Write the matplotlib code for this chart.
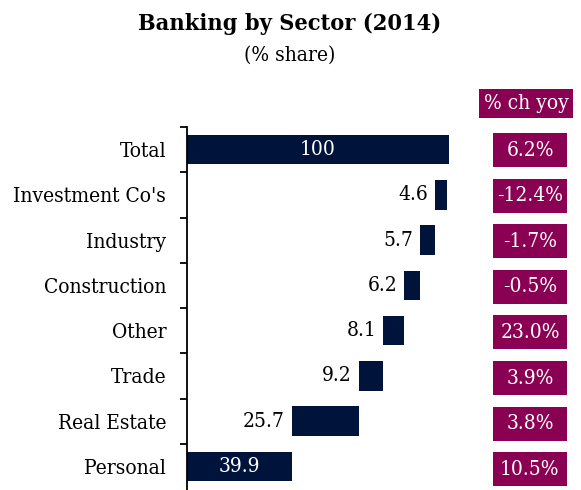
import matplotlib
matplotlib.use("Agg")
import matplotlib.pyplot as plt
from matplotlib.patches import Rectangle
import numpy as np

categories = ["Total", "Investment Co's", "Industry", "Construction", "Other", "Trade", "Real Estate", "Personal"]
values = [100, 4.6, 5.7, 6.2, 8.1, 9.2, 25.7, 39.9]
yoy_labels = ["6.2%", "-12.4%", "-1.7%", "-0.5%", "23.0%", "3.9%", "3.8%", "10.5%"]

navy = "#00133a"
maroon = "#8a0052"

plt.rcParams['font.family'] = ["DejaVu Serif"]
plt.rcParams['font.stretch'] = "condensed"
FS = 15

W, H = 581, 490
fig = plt.figure(figsize=(W / 100, H / 100), dpi=100)
ax = fig.add_axes([187 / W, 0.0, (449 - 187) / W, (H - 127) / H])

n = len(categories)
ypos = np.arange(n)[::-1]  # Total on top
starts = {}
cum = 0.0
for i in range(n - 1, 0, -1):
    starts[i] = cum
    cum += values[i]
starts[0] = 0.0
lefts = [starts[i] for i in range(n)]

ax.barh(ypos, values, left=lefts, height=0.65, color=navy)
ax.set_xlim(0, 100)
ax.set_ylim(-0.5 - 0.02, n - 0.5)

for i in range(n):
    y = ypos[i]
    if i == 0 or i == n - 1:
        txt = f"{values[i]:g}" if i == 0 else f"{values[i]:.1f}"
        ax.text(lefts[i] + values[i] / 2, y, txt, ha="center", va="center",
                color="white", fontsize=FS, fontstretch="condensed")
    else:
        ax.annotate(f"{values[i]:.1f}", xy=(lefts[i], y), xytext=(-5, 0),
                    textcoords="offset points", ha="right", va="center",
                    color="black", fontsize=FS, fontstretch="condensed")

ax.set_yticks(ypos)
ax.set_yticklabels(categories, fontsize=FS, fontstretch="condensed")
ax.tick_params(axis="y", which="major", length=0, pad=15)
ax.set_yticks(np.arange(n) + 0.5, minor=True)
ax.tick_params(axis="y", which="minor", length=5, width=1.3, direction="out")
ax.set_xticks([])
for s in ["top", "right", "bottom"]:
    ax.spines[s].set_visible(False)
ax.spines["left"].set_linewidth(1.3)

# right column boxes
for i in range(n):
    cy = 150 + 45.6 * i
    fig.patches.append(Rectangle((493 / W, 1 - (cy + 17) / H), 74 / W, 34 / H,
                                 transform=fig.transFigure, fc=maroon, ec="none"))
    fig.text(530 / W, 1 - cy / H, yoy_labels[i], ha="center", va="center",
             color="white", fontsize=FS, fontstretch="condensed")
fig.patches.append(Rectangle((479 / W, 1 - 118 / H), 94 / W, 29 / H,
                             transform=fig.transFigure, fc=maroon, ec="none"))
fig.text(526 / W, 1 - 103.5 / H, "% ch yoy", ha="center", va="center", color="white",
         fontsize=FS, fontstretch="condensed")

fig.text(290 / W, 1 - 24 / H, "Banking by Sector (2014)", ha="center", va="center",
         fontsize=16.8, fontweight="bold", fontstretch="condensed")
fig.text(290 / W, 1 - 55 / H, "(% share)", ha="center", va="center", fontsize=15,
         fontstretch="condensed")

fig.savefig("out.png", dpi=100)
